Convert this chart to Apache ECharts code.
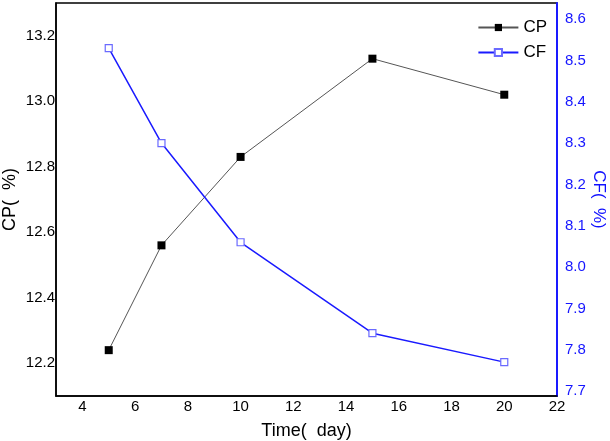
<!DOCTYPE html>
<html><head><meta charset="utf-8">
<script src="https://cdn.jsdelivr.net/npm/echarts@6/dist/echarts.min.js"></script>
<style>html,body{margin:0;padding:0;background:#fff}#c{width:610px;height:441px}</style>
</head><body><div id="c"></div>
<script>
const days = [5, 7, 10, 15, 20];
const cpValues = [12.24, 12.56, 12.83, 13.13, 13.02];
const cfValues = [8.53, 8.30, 8.06, 7.84, 7.77];
const xTicks = [4, 6, 8, 10, 12, 14, 16, 18, 20, 22];
const cpTicks = [12.2, 12.4, 12.6, 12.8, 13.0, 13.2];
const cfTicks = [7.7, 7.8, 7.9, 8.0, 8.1, 8.2, 8.3, 8.4, 8.5, 8.6];

const font = 'Liberation Sans, Arial, sans-serif';
const chart = echarts.init(document.getElementById('c'));
chart.setOption({
  animation: false,
  grid: { left: 56, right: 53, top: 3, bottom: 45, show: true, borderColor: '#000', borderWidth: 1.5,
    backgroundColor: 'transparent', containLabel: false, outerBoundsMode: 'none' },
  legend: {
    right: 58, top: 14, orient: 'vertical', itemWidth: 40, itemHeight: 9, itemGap: 8,
    textStyle: { fontFamily: font, fontSize: 17, color: '#000' },
    data: ['CP', 'CF']
  },
  xAxis: {
    type: 'value', min: 3, max: 22,
    name: 'Time(  day)', nameLocation: 'middle', nameGap: 26, nameMoveOverlap: false,
    nameTextStyle: { fontFamily: font, fontSize: 18, color: '#000' },
    axisLine: { lineStyle: { color: '#000', width: 1.5 } },
    axisTick: { show: false },
    splitLine: { show: false },
    axisLabel: { customValues: xTicks, fontFamily: font, fontSize: 15, color: '#000', margin: 3 }
  },
  yAxis: [{
    type: 'value', min: 12.1, max: 13.3, position: 'left',
    name: 'CP(  %)', nameLocation: 'middle', nameGap: 37, nameRotate: 90, nameMoveOverlap: false,
    nameTextStyle: { fontFamily: font, fontSize: 18, color: '#000' },
    axisLine: { show: true, lineStyle: { color: '#000', width: 1.5 } },
    axisTick: { show: false },
    splitLine: { show: false },
    axisLabel: { customValues: cpTicks, fontFamily: font, fontSize: 15, color: '#000', margin: 1,
      formatter: v => v.toFixed(1) }
  }, {
    type: 'value', min: 7.688, max: 8.639, position: 'right',
    name: 'CF(  %)', nameLocation: 'middle', nameGap: 33, nameRotate: -90, nameMoveOverlap: false,
    nameTextStyle: { fontFamily: font, fontSize: 17, color: '#1010ff' },
    axisLine: { show: true, lineStyle: { color: '#1a1aff', width: 2 } },
    axisTick: { show: false },
    splitLine: { show: false },
    axisLabel: { customValues: cfTicks, fontFamily: font, fontSize: 15, color: '#1515ff', margin: 8,
      formatter: v => v.toFixed(1) }
  }],
  series: [{
    name: 'CP', type: 'line', yAxisIndex: 0,
    data: days.map((d, i) => [d, cpValues[i]]),
    symbol: 'rect', symbolSize: 8,
    itemStyle: { color: '#000' },
    lineStyle: { color: '#555', width: 1 }
  }, {
    name: 'CF', type: 'line', yAxisIndex: 1,
    data: days.map((d, i) => [d, cfValues[i]]),
    symbol: 'rect', symbolSize: 7,
    itemStyle: { color: '#fff', borderColor: '#6a6aff', borderWidth: 1.2 },
    lineStyle: { color: '#1a1aff', width: 1.5 }
  }]
});
</script></body></html>
